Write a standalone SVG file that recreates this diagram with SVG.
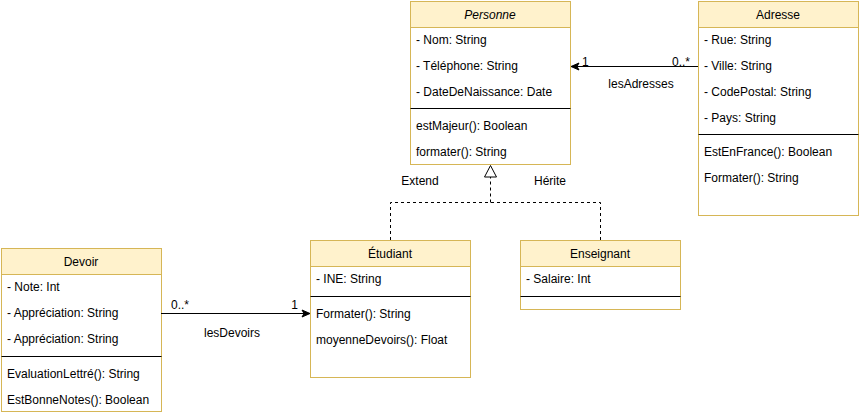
<svg xmlns="http://www.w3.org/2000/svg" width="859" height="416" viewBox="0 0 859 416">
<style>
text{font-family:"Liberation Sans",Arial,sans-serif;font-size:12px;fill:#000}
.box{fill:#fff;stroke:#d6b656;stroke-width:1}
.hd{fill:#fff2cc;stroke:#d6b656;stroke-width:1}
.div{stroke:#000;stroke-width:1}
.c{text-anchor:middle}
.conn{fill:none;stroke:#000;stroke-width:1}
.dash{fill:none;stroke:#000;stroke-width:1;stroke-dasharray:3 3}
</style>
<defs>
<marker id="arr" markerWidth="10" markerHeight="10" refX="9" refY="5" orient="auto" markerUnits="userSpaceOnUse">
<path d="M1,1.5 L9,5 L1,8.5 L3,5 Z" fill="#000" stroke="#000"/>
</marker>
</defs>
<rect width="859" height="416" fill="#fff"/>
<g id="Personne">
<rect class="box" x="410.5" y="1.5" width="160" height="163"/>
<rect class="hd" x="410.5" y="1.5" width="160" height="26"/>
<text class="c" x="490" y="18.5" font-style="italic">Personne</text>
<text x="416" y="44">- Nom: String</text>
<text x="416" y="70">- Téléphone: String</text>
<text x="416" y="96">- DateDeNaissance: Date</text>
<line class="div" x1="410.5" y1="108.5" x2="570.5" y2="108.5"/>
<text x="416" y="130">estMajeur(): Boolean</text>
<text x="416" y="156">formater(): String</text>
</g>
<g id="Adresse">
<rect class="box" x="698.5" y="1.5" width="160" height="214"/>
<rect class="hd" x="698.5" y="1.5" width="160" height="26"/>
<text class="c" x="778" y="18.5">Adresse</text>
<text x="704" y="44">- Rue: String</text>
<text x="704" y="70">- Ville: String</text>
<text x="704" y="96">- CodePostal: String</text>
<text x="704" y="122">- Pays: String</text>
<line class="div" x1="698.5" y1="134.5" x2="858.5" y2="134.5"/>
<text x="704" y="156">EstEnFrance(): Boolean</text>
<text x="704" y="182">Formater(): String</text>
</g>
<g id="Etudiant">
<rect class="box" x="310.5" y="240.5" width="160" height="137"/>
<rect class="hd" x="310.5" y="240.5" width="160" height="26"/>
<text class="c" x="390" y="257.5">Étudiant</text>
<text x="316" y="283">- INE: String</text>
<line class="div" x1="310.5" y1="296.5" x2="470.5" y2="296.5"/>
<text x="316" y="318">Formater(): String</text>
<text x="316" y="344">moyenneDevoirs(): Float</text>
</g>
<g id="Enseignant">
<rect class="box" x="520.5" y="240.5" width="160" height="69"/>
<rect class="hd" x="520.5" y="240.5" width="160" height="26"/>
<text class="c" x="600" y="257.5">Enseignant</text>
<text x="526" y="283">- Salaire: Int</text>
<line class="div" x1="520.5" y1="296.5" x2="680.5" y2="296.5"/>
</g>
<g id="Devoir">
<rect class="box" x="1.5" y="248.5" width="160" height="163"/>
<rect class="hd" x="1.5" y="248.5" width="160" height="26"/>
<text class="c" x="81" y="265.5">Devoir</text>
<text x="7" y="291">- Note: Int</text>
<text x="7" y="317">- Appréciation: String</text>
<text x="7" y="343">- Appréciation: String</text>
<line class="div" x1="1.5" y1="356.5" x2="161.5" y2="356.5"/>
<text x="7" y="378">EvaluationLettré(): String</text>
<text x="7" y="404">EstBonneNotes(): Boolean</text>
</g>
<g id="connectors">
<line class="conn" x1="698" y1="66.5" x2="571" y2="66.5" marker-end="url(#arr)"/>
<text x="582" y="66">1</text>
<text x="690" y="66" text-anchor="end">0..*</text>
<text class="c" x="641" y="88">lesAdresses</text>
<line class="conn" x1="161" y1="313.5" x2="310" y2="313.5" marker-end="url(#arr)"/>
<text x="171" y="309">0..*</text>
<text x="298" y="309" text-anchor="end">1</text>
<text class="c" x="232" y="337">lesDevoirs</text>
<path class="dash" d="M390.5,240 V202.5 H600.5 V240"/>
<line class="dash" x1="490.5" y1="202.5" x2="490.5" y2="177"/>
<path d="M490.5,165.5 L484.5,177 L496.5,177 Z" fill="#fff" stroke="#000"/>
<text class="c" x="420" y="185">Extend</text>
<text class="c" x="550" y="185">Hérite</text>
</g>
</svg>
